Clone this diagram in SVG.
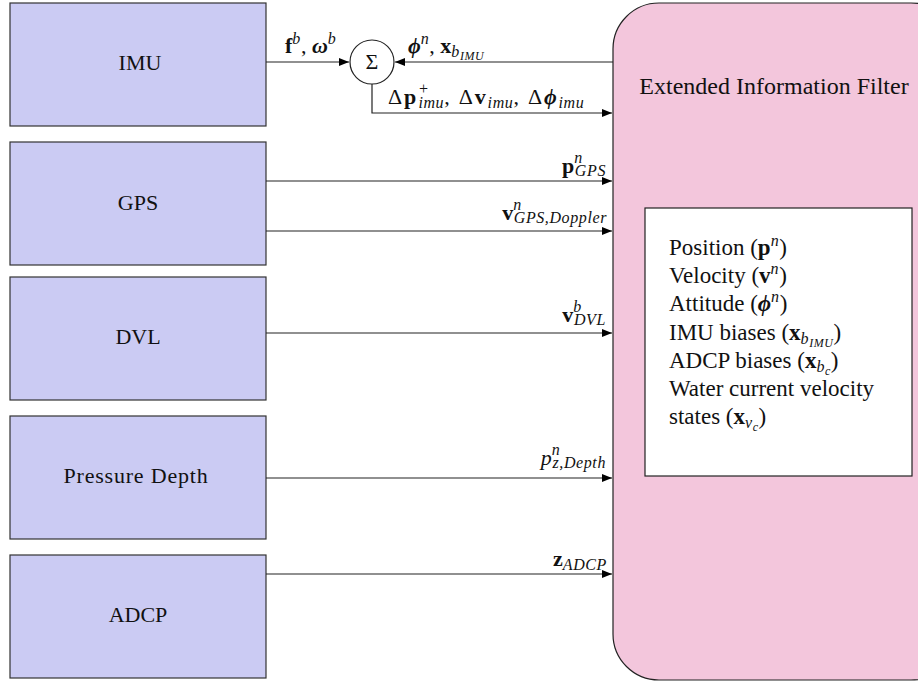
<svg xmlns="http://www.w3.org/2000/svg" width="918" height="682" viewBox="0 0 918 682">
<style>
text{font-family:"Liberation Serif","DejaVu Serif",serif;fill:#111}
.src{fill:#cbcbf3;stroke:#333;stroke-width:1.2}
.t{font-size:22px}
.st{font-size:23px}
.title{font-size:24px}
.lbl{font-size:22px}
.b{font-weight:bold}
.i{font-style:italic}
.sup{font-size:16px;font-style:italic;letter-spacing:0.6px}
.ss{font-size:12px;font-style:italic;letter-spacing:0.5px}
.ln{fill:none;stroke:#222;stroke-width:1.2}
</style>
<defs>
<marker id="ah" viewBox="0 0 10 10" refX="10" refY="5" markerWidth="10" markerHeight="10" markerUnits="userSpaceOnUse" orient="auto">
<path d="M0,1 L10,5 L0,9 Z" fill="#000"/>
</marker>
</defs>

<g id="eif">
<rect x="613" y="3" width="344" height="677" rx="46" ry="46" fill="#f3c6dc" stroke="#222" stroke-width="1.2"/>
<text class="title" x="774" y="94" text-anchor="middle">Extended Information Filter</text>
</g>

<g id="states">
<rect x="645" y="208" width="267" height="268" fill="#fff" stroke="#222" stroke-width="1.2"/>
<text class="st" x="669" y="255">Position (<tspan class="b">p</tspan><tspan class="sup" dy="-9">n</tspan><tspan dy="9">)</tspan></text>
<text class="st" x="669" y="283">Velocity (<tspan class="b">v</tspan><tspan class="sup" dy="-9">n</tspan><tspan dy="9">)</tspan></text>
<text class="st" x="669" y="311">Attitude (<tspan class="b i">ϕ</tspan><tspan class="sup" dy="-9">n</tspan><tspan dy="9">)</tspan></text>
<text class="st" x="669" y="340">IMU biases (<tspan class="b">x</tspan><tspan class="sup" dy="4">b</tspan><tspan class="ss" dy="3">IMU</tspan><tspan dy="-7">)</tspan></text>
<text class="st" x="669" y="368">ADCP biases (<tspan class="b">x</tspan><tspan class="sup" dy="4">b</tspan><tspan class="ss" dy="3">c</tspan><tspan dy="-7">)</tspan></text>
<text class="st" x="669" y="396">Water current velocity</text>
<text class="st" x="669" y="424">states (<tspan class="b">x</tspan><tspan class="sup" dy="4">v</tspan><tspan class="ss" dy="3">c</tspan><tspan dy="-7">)</tspan></text>
</g>

<g id="imu">
<rect class="src" x="10" y="3" width="256" height="123"/>
<text class="t" x="140" y="70" text-anchor="middle">IMU</text>
</g>
<g id="gps">
<rect class="src" x="10" y="142" width="256" height="123"/>
<text class="t" x="138" y="210" text-anchor="middle">GPS</text>
</g>
<g id="dvl">
<rect class="src" x="10" y="277" width="256" height="123"/>
<text class="t" x="138" y="344" text-anchor="middle">DVL</text>
</g>
<g id="pressure">
<rect class="src" x="10" y="416" width="256" height="123"/>
<text class="t" x="136" y="483" text-anchor="middle" letter-spacing="0.8">Pressure Depth</text>
</g>
<g id="adcp">
<rect class="src" x="10" y="555" width="256" height="123"/>
<text class="t" x="138" y="622" text-anchor="middle">ADCP</text>
</g>

<g id="sum">
<circle cx="372" cy="62" r="22" fill="#fff" stroke="#222" stroke-width="1.2"/>
<text class="t" x="372" y="69" text-anchor="middle">Σ</text>
</g>

<g id="connectors">
<line class="ln" x1="266" y1="62" x2="349" y2="62" marker-end="url(#ah)"/>
<line class="ln" x1="613" y1="62" x2="395" y2="62" marker-end="url(#ah)"/>
<polyline class="ln" points="372,84 372,113 612,113" marker-end="url(#ah)"/>
<line class="ln" x1="266" y1="181" x2="612" y2="181" marker-end="url(#ah)"/>
<line class="ln" x1="266" y1="231" x2="612" y2="231" marker-end="url(#ah)"/>
<line class="ln" x1="266" y1="333" x2="612" y2="333" marker-end="url(#ah)"/>
<line class="ln" x1="266" y1="478" x2="612" y2="478" marker-end="url(#ah)"/>
<line class="ln" x1="266" y1="574" x2="612" y2="574" marker-end="url(#ah)"/>

<text class="lbl" x="285" y="53"><tspan class="b">f</tspan><tspan class="sup" dy="-9">b</tspan><tspan dy="9">, </tspan><tspan class="b i">ω</tspan><tspan class="sup" dy="-9">b</tspan></text>
<text class="lbl" x="408" y="53"><tspan class="b i">ϕ</tspan><tspan class="sup" dy="-9">n</tspan><tspan dy="9">, </tspan><tspan class="b">x</tspan><tspan class="sup" dy="4">b</tspan><tspan class="ss" dy="3">IMU</tspan></text>
<text class="lbl" x="388" y="104" letter-spacing="1.8">Δ<tspan class="b">p</tspan><tspan class="sup" dy="-10" letter-spacing="1.8">+</tspan><tspan class="sup" dx="-11" dy="14" letter-spacing="1.8">imu</tspan><tspan dy="-4">, Δ</tspan><tspan class="b">v</tspan><tspan class="sup" dy="4" letter-spacing="1.8">imu</tspan><tspan dy="-4">, Δ</tspan><tspan class="b i">ϕ</tspan><tspan class="sup" dy="4" letter-spacing="1.8">imu</tspan></text>
<text class="lbl" x="606" y="173" text-anchor="end"><tspan class="b">p</tspan><tspan class="sup" dy="-10">n</tspan><tspan class="sup" dx="-8" dy="13">GPS</tspan></text>
<text class="lbl" x="607" y="220" text-anchor="end"><tspan class="b">v</tspan><tspan class="sup" dy="-10">n</tspan><tspan class="sup" dx="-8" dy="13">GPS,Doppler</tspan></text>
<text class="lbl" x="606" y="322" text-anchor="end"><tspan class="b">v</tspan><tspan class="sup" dy="-10">b</tspan><tspan class="sup" dx="-8" dy="13">DVL</tspan></text>
<text class="lbl" x="606" y="465" text-anchor="end"><tspan class="i">p</tspan><tspan class="sup" dy="-10">n</tspan><tspan class="sup" dx="-8" dy="13">z,Depth</tspan></text>
<text class="lbl" x="607" y="566" text-anchor="end"><tspan class="b">z</tspan><tspan class="sup" dy="4">ADCP</tspan></text>
</g>
</svg>
